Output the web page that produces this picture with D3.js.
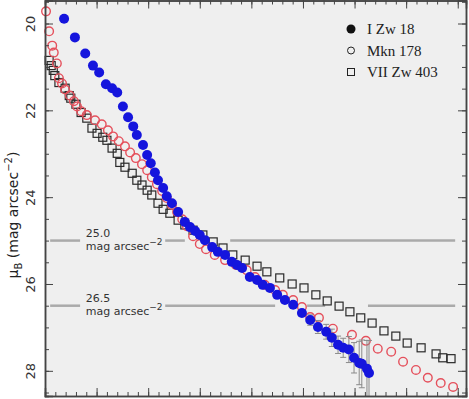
<!DOCTYPE html>
<html>
<head>
<meta charset="utf-8">
<script src="https://cdn.jsdelivr.net/npm/d3@7"></script>
<style>
  body { margin: 0; background: #fff; }
  svg { display: block; }
</style>
</head>
<body>
<svg></svg>
<script>
// I Zw 18 (filled blue circles), radius in arbitrary units, mu_B in mag arcsec^-2
var izwR = [0.37, 0.58, 0.78, 0.93, 1.05, 1.18, 1.30, 1.40, 1.51, 1.61, 1.71, 1.78, 1.90, 1.98, 2.05, 2.13, 2.19, 2.29, 2.36, 2.46,
    2.58, 2.71, 2.81, 2.91, 3.00, 3.10, 3.24, 3.35, 3.49, 3.62, 3.72, 3.82, 3.97, 4.11, 4.22, 4.36, 4.50, 4.65, 4.81, 4.98,
    5.14, 5.29, 5.45, 5.56, 5.68, 5.78, 5.89, 5.99, 6.09, 6.14, 6.24, 6.28];
var izwMu = [19.89, 20.32, 20.69, 20.97, 21.13, 21.40, 21.49, 21.59, 21.91, 22.16, 22.37, 22.57, 22.80, 23.03, 23.22, 23.43, 23.61, 23.79, 23.98, 24.14,
    24.34, 24.57, 24.69, 24.78, 24.87, 24.99, 25.15, 25.26, 25.33, 25.49, 25.56, 25.63, 25.84, 25.91, 26.02, 26.09, 26.25, 26.37, 26.48, 26.67,
    26.83, 26.99, 27.10, 27.24, 27.40, 27.47, 27.51, 27.70, 27.82, 27.84, 27.95, 28.05];
// error bars only on the outer points of I Zw 18
var izwErr = [0, 0, 0, 0, 0, 0, 0, 0, 0, 0, 0, 0, 0, 0, 0, 0, 0, 0, 0, 0,
    0, 0, 0, 0, 0, 0, 0, 0, 0, 0, 0, 0, 0, 0, 0, 0, 0, 0, 0, 0.08,
    0.12, 0.15, 0.17, 0.2, 0.2, 0.22, 0.3, 0.35, 0.5, 0.55, 0.65, 0.75];

// Mkn 178 (open red circles)
var mknR = [0.02, 0.08, 0.14, 0.17, 0.23, 0.27, 0.33, 0.39, 0.48, 0.56, 0.62, 0.70, 0.81, 0.97, 1.10, 1.22, 1.32, 1.43, 1.55, 1.65,
    1.76, 1.88, 1.98, 2.07, 2.17, 2.27, 2.36, 2.46, 2.56, 2.66, 2.75, 2.87, 3.00, 3.12, 3.29, 3.49, 3.70, 3.91, 4.07, 4.26,
    4.46, 4.61, 4.81, 4.98, 5.14, 5.31, 5.58, 5.95, 6.22, 6.45, 6.71, 6.94, 7.19, 7.42, 7.67, 7.91];
var mknMu = [19.72, 20.18, 20.51, 20.67, 20.92, 21.26, 21.38, 21.52, 21.66, 21.79, 21.91, 22.02, 22.11, 22.23, 22.32, 22.46, 22.60, 22.71, 22.83, 22.97,
    23.10, 23.24, 23.38, 23.54, 23.70, 23.86, 24.02, 24.18, 24.34, 24.51, 24.67, 24.90, 25.08, 25.20, 25.33, 25.45, 25.56, 25.68, 25.84, 26.02,
    26.14, 26.25, 26.37, 26.53, 26.76, 26.78, 27.03, 27.17, 27.31, 27.49, 27.56, 27.79, 27.98, 28.16, 28.28, 28.37];

// VII Zw 403 (open squares)
var viiR = [0.08, 0.12, 0.16, 0.19, 0.27, 0.39, 0.47, 0.50, 0.60, 0.70, 0.81, 0.91, 1.01, 1.12, 1.20, 1.30, 1.40, 1.45, 1.55, 1.69,
    1.78, 1.88, 1.98, 2.07, 2.19, 2.29, 2.42, 2.58, 2.71, 2.87, 3.06, 3.26, 3.45, 3.64, 3.88, 4.11, 4.30, 4.55, 4.79, 5.02,
    5.25, 5.47, 5.70, 5.91, 6.12, 6.34, 6.57, 6.80, 7.02, 7.29, 7.58, 7.71, 7.87];
var viiMu = [20.85, 20.97, 21.08, 21.20, 21.36, 21.49, 21.66, 21.72, 21.86, 22.05, 22.18, 22.41, 22.53, 22.62, 22.69, 22.87, 22.99, 23.20, 23.31, 23.45,
    23.61, 23.72, 23.84, 23.95, 24.14, 24.28, 24.37, 24.53, 24.64, 24.76, 24.87, 25.03, 25.17, 25.33, 25.45, 25.59, 25.72, 25.86, 26.00, 26.09,
    26.25, 26.39, 26.51, 26.64, 26.78, 26.90, 27.08, 27.20, 27.36, 27.47, 27.61, 27.70, 27.72];

// isophote reference levels and the pieces of each line that are visible
var refLevels = [25.0, 26.5];
var refLabels = ["25.0", "26.5"];
var refPieces = [
    [[0.10, 0.68], [2.33, 2.71], [3.59, 7.95]],
    [[0.10, 0.68], [2.33, 4.46], [5.08, 5.43], [6.26, 7.95]]
];

var yTicks = [20, 22, 24, 26, 28];
var legendNames = ["I Zw 18", "Mkn 178", "VII Zw 403"];

var svgWidth = 469, svgHeight = 399;
var plotLeft = 45, plotRight = 466, plotTop = 0.5, plotBottom = 396;

var svg = d3.select('svg')
    .attr("width", svgWidth)
    .attr("height", svgHeight);

var xScale = d3.scaleLinear().domain([0, 8.16]).range([plotLeft, plotRight]);
var yScale = d3.scaleLinear().domain([19.47, 28.58]).range([plotTop, plotBottom]); // magnitudes grow downwards

// plot background
svg.append("rect")
    .attr("x", plotLeft).attr("y", plotTop)
    .attr("width", plotRight - plotLeft).attr("height", plotBottom - plotTop)
    .attr("fill", "#efefef");

// *** reference isophote lines ***
refLevels.forEach(function (lev, i) {
    refPieces[i].forEach(function (p) {
        svg.append("line")
            .attr("x1", xScale(p[0])).attr("x2", xScale(p[1]))
            .attr("y1", yScale(lev)).attr("y2", yScale(lev))
            .attr("stroke", "#aaaaaa")
            .attr("stroke-width", 2.5);
    });
    var lab = svg.append("g")
        .attr("font-family", "DejaVu Sans, sans-serif")
        .attr("font-size", 11)
        .attr("fill", "#333");
    lab.append("text")
        .attr("x", xScale(0.79)).attr("y", yScale(lev) - 4)
        .text(refLabels[i]);
    var l2 = lab.append("text")
        .attr("x", xScale(0.79)).attr("y", yScale(lev) + 9);
    l2.append("tspan").text("mag arcsec");
    l2.append("tspan").attr("dy", -5).attr("font-size", 9).text("\u22122");
});

// *** VII Zw 403 squares ***
svg.append("g").selectAll("rect")
    .data(viiR)
    .enter()
    .append("rect")
    .attr("x", function (d) { return xScale(d) - 4; })
    .attr("y", function (d, i) { return yScale(viiMu[i]) - 4; })
    .attr("width", 8).attr("height", 8)
    .attr("fill", "none")
    .attr("stroke", "#2a2a2a")
    .attr("stroke-width", 1.2);

// *** Mkn 178 circles ***
svg.append("g").selectAll("circle")
    .data(mknR)
    .enter()
    .append("circle")
    .attr("cx", function (d) { return xScale(d); })
    .attr("cy", function (d, i) { return yScale(mknMu[i]); })
    .attr("r", 4.3)
    .attr("fill", "none")
    .attr("stroke", "#e5505c")
    .attr("stroke-width", 1.4);

// *** I Zw 18 error bars ***
var errG = svg.append("g").attr("stroke", "#8a8a8a").attr("stroke-width", 1);
izwR.forEach(function (d, i) {
    if (!izwErr[i]) return;
    var x = xScale(d), y0 = yScale(izwMu[i] - izwErr[i]), y1 = Math.min(yScale(izwMu[i] + izwErr[i]), plotBottom);
    errG.append("line").attr("x1", x).attr("x2", x).attr("y1", y0).attr("y2", y1);
    errG.append("line").attr("x1", x - 3).attr("x2", x + 3).attr("y1", y0).attr("y2", y0);
    if (y1 < plotBottom) errG.append("line").attr("x1", x - 3).attr("x2", x + 3).attr("y1", y1).attr("y2", y1);
});

// *** I Zw 18 filled circles ***
svg.append("g").selectAll("circle")
    .data(izwR)
    .enter()
    .append("circle")
    .attr("cx", function (d) { return xScale(d); })
    .attr("cy", function (d, i) { return yScale(izwMu[i]); })
    .attr("r", 5)
    .attr("fill", "#1515dd");

// *** Axes (ticks point inwards, no labels on x) ***
var xMajor = d3.range(0, 8.01, 1);
var xMinor = d3.range(0, 8.16, 0.2);
var yMinor = d3.range(19.5, 28.51, 0.5);

function styleAxis(g) {
    g.select(".domain").attr("stroke", "#444").attr("stroke-width", 1.5);
    g.selectAll(".tick line").attr("stroke", "#444").attr("stroke-width", 1);
}

svg.append("g").attr("transform", "translate(0," + plotBottom + ")")
    .call(d3.axisBottom(xScale).tickValues(xMinor).tickSize(-4).tickFormat(""))
    .call(styleAxis);
svg.append("g").attr("transform", "translate(0," + plotBottom + ")")
    .call(d3.axisBottom(xScale).tickValues(xMajor).tickSize(-8).tickFormat(""))
    .call(styleAxis);
svg.append("g").attr("transform", "translate(0," + plotTop + ")")
    .call(d3.axisTop(xScale).tickValues(xMinor).tickSize(-4).tickFormat(""))
    .call(styleAxis);
svg.append("g").attr("transform", "translate(0," + plotTop + ")")
    .call(d3.axisTop(xScale).tickValues(xMajor).tickSize(-8).tickFormat(""))
    .call(styleAxis);

svg.append("g").attr("transform", "translate(" + plotRight + ",0)")
    .call(d3.axisRight(yScale).tickValues(yMinor).tickSize(-4).tickFormat(""))
    .call(styleAxis);
svg.append("g").attr("transform", "translate(" + plotRight + ",0)")
    .call(d3.axisRight(yScale).tickValues(yTicks).tickSize(-8).tickFormat(""))
    .call(styleAxis);
svg.append("g").attr("transform", "translate(" + plotLeft + ",0)")
    .call(d3.axisLeft(yScale).tickValues(yMinor).tickSize(-4).tickFormat(""))
    .call(styleAxis);

var yAxisG = svg.append("g").attr("transform", "translate(" + plotLeft + ",0)")
    .call(d3.axisLeft(yScale).tickValues(yTicks).tickSize(-8).tickFormat(d3.format("d")))
    .call(styleAxis);
// rotated tick labels like the original
yAxisG.selectAll(".tick text")
    .attr("x", 0).attr("y", -10).attr("dy", 0)
    .attr("text-anchor", "middle")
    .attr("transform", "rotate(-90)")
    .attr("font-family", "DejaVu Sans, sans-serif")
    .attr("font-size", 13)
    .attr("fill", "#333");

// y axis title
var yTitle = svg.append("text")
    .attr("transform", "translate(18," + 215 + ") rotate(-90)")
    .attr("text-anchor", "middle")
    .attr("font-family", "DejaVu Sans, sans-serif")
    .attr("font-size", 14)
    .attr("fill", "#222");
yTitle.append("tspan").text("\u03bc");
yTitle.append("tspan").attr("dy", 4).attr("font-size", 10).text("B");
yTitle.append("tspan").attr("dy", -4).text(" (mag arcsec");
yTitle.append("tspan").attr("dy", -6).attr("font-size", 10).text("\u22122");
yTitle.append("tspan").attr("dy", 6).text(")");

// *** Legend ***
var legend = svg.append("g").selectAll("g")
    .data(legendNames)
    .enter()
    .append("g")
    .attr("transform", function (d, i) { return "translate(351," + (29 + i * 21.5) + ")"; });
legend.filter(function (d, i) { return i === 0; }).append("circle")
    .attr("r", 4.5).attr("fill", "#111");
legend.filter(function (d, i) { return i === 1; }).append("circle")
    .attr("r", 3.5).attr("fill", "none").attr("stroke", "#222").attr("stroke-width", 1);
legend.filter(function (d, i) { return i === 2; }).append("rect")
    .attr("x", -3.5).attr("y", -3.5).attr("width", 7).attr("height", 7)
    .attr("fill", "none").attr("stroke", "#222").attr("stroke-width", 1);
legend.append("text")
    .attr("x", 16).attr("y", 5)
    .attr("font-family", "Liberation Serif, serif")
    .attr("font-size", 15)
    .attr("fill", "#222")
    .text(function (d) { return d; });
</script>
</body>
</html>
